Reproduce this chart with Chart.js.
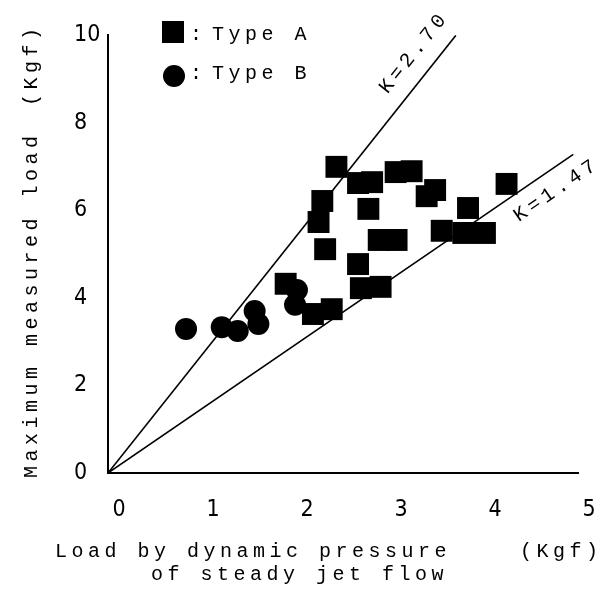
<!DOCTYPE html>
<html>
<head>
<meta charset="utf-8">
<script src="https://cdn.jsdelivr.net/npm/chart.js@4/dist/chart.umd.min.js"></script>
<style>
  body { margin: 0; background: #fff; }
  canvas { display: block; }
</style>
</head>
<body>
<canvas id="chart" width="614" height="590"></canvas>
<script>
// Type A (squares)
const typeAX = [2.43, 2.66, 2.81, 3.06, 3.23, 3.39, 3.48, 2.77, 2.88, 3.07, 2.66, 2.69, 2.90, 2.38, 2.18, 1.89, 2.28, 2.24, 2.31, 4.24, 3.83, 3.55, 3.78, 4.01];
const typeAY = [6.99, 6.62, 6.64, 6.87, 6.89, 6.32, 6.46, 6.03, 5.32, 5.32, 4.77, 4.22, 4.25, 3.74, 3.63, 4.32, 6.21, 5.73, 5.11, 6.60, 6.05, 5.53, 5.48, 5.48];

// Type B (circles)
const typeBX = [0.83, 1.21, 1.38, 1.56, 1.60, 2.01, 1.99];
const typeBY = [3.29, 3.33, 3.24, 3.70, 3.40, 4.18, 3.84];

// reference lines y = K * x, and where each one stops
const kValues = [2.70, 1.47];
const kEnds = [3.70, 4.95];

const xTicks = [0, 1, 2, 3, 4, 5];
const yTicks = [0, 2, 4, 6, 8, 10];

const monoFont = '"Liberation Mono", "Courier New", monospace';
const tickFont = '"Liberation Sans Narrow", "DejaVu Sans Condensed", "Arial Narrow", sans-serif';

const toPoints = (xs, ys) => xs.map((x, i) => ({ x: x, y: ys[i] }));

const kDatasets = kValues.map((k, i) => ({
    type: 'line',
    label: 'K=' + k.toFixed(2),
    data: [{ x: 0, y: 0 }, { x: kEnds[i], y: k * kEnds[i] }],
    borderColor: '#000',
    borderWidth: 1.6,
    pointRadius: 0,
    fill: false
}));

// draws the legend, K labels and axis titles in the typewriter style of the original
const textPlugin = {
    id: 'textPlugin',
    afterDraw(chart) {
        const { ctx, scales: { x, y } } = chart;
        ctx.save();
        ctx.fillStyle = '#000';
        ctx.font = '20px ' + monoFont;
        ctx.letterSpacing = '4.5px';
        ctx.textBaseline = 'alphabetic';
        ctx.textAlign = 'left';

        // legend
        ctx.fillRect(162, 21, 22, 22);
        ctx.beginPath();
        ctx.arc(174, 76, 11, 0, Math.PI * 2);
        ctx.fill();
        ctx.fillText(':', 190, 40);
        ctx.fillText('Type A', 212, 40);
        ctx.fillText(':', 190, 79);
        ctx.fillText('Type B', 212, 79);

        // K labels along the lines
        const ox = x.getPixelForValue(0), oy = y.getPixelForValue(0);
        const placements = [{ along: 0.93, off: -22 }, { along: 0.94, off: 20 }];
        kValues.forEach((k, i) => {
            const ex = x.getPixelForValue(kEnds[i]), ey = y.getPixelForValue(k * kEnds[i]);
            const dx = ex - ox, dy = ey - oy;
            const len = Math.hypot(dx, dy);
            const ux = dx / len, uy = dy / len;
            const p = placements[i];
            const nx = uy, ny = -ux;
            const cx = ox + ux * len * p.along - nx * p.off;
            const cy = oy + uy * len * p.along - ny * p.off;
            ctx.save();
            ctx.translate(cx, cy);
            ctx.rotate(Math.atan2(dy, dx));
            ctx.textAlign = 'center';
            ctx.textBaseline = 'middle';
            ctx.fillText('K=' + k.toFixed(2), 0, 0);
            ctx.restore();
        });

        // x axis title
        ctx.fillText('Load by dynamic pressure', 55, 557);
        ctx.fillText('(Kgf)', 520, 557);
        ctx.fillText('of steady jet flow', 151, 580);

        // y axis title
        ctx.save();
        ctx.translate(37, 478);
        ctx.rotate(-Math.PI / 2);
        ctx.fillText('Maximum measured load', 0, 0);
        ctx.fillText('(Kgf)', 372, 0);
        ctx.restore();

        ctx.restore();
    }
};

new Chart(document.getElementById('chart'), {
    type: 'scatter',
    data: {
        datasets: [
            {
                label: 'Type A',
                data: toPoints(typeAX, typeAY),
                pointStyle: 'rect',
                pointRadius: 15.5,
                pointHoverRadius: 15.5,
                backgroundColor: '#000',
                borderWidth: 0
            },
            {
                label: 'Type B',
                data: toPoints(typeBX, typeBY),
                pointStyle: 'circle',
                pointRadius: 11,
                pointHoverRadius: 11,
                backgroundColor: '#000',
                borderWidth: 0
            },
            ...kDatasets
        ]
    },
    options: {
        responsive: false,
        animation: false,
        events: [],
        layout: { padding: { left: 74, top: 35, right: 36, bottom: 0 } },
        plugins: {
            legend: { display: false },
            tooltip: { enabled: false }
        },
        scales: {
            x: {
                type: 'linear',
                min: 0,
                max: 5,
                afterFit: (scale) => { scale.height = 117; },
                afterBuildTicks: (scale) => { scale.ticks = xTicks.map(v => ({ value: v })); },
                grid: { display: false, drawTicks: false },
                border: { display: true, color: '#000', width: 2 },
                ticks: {
                    color: '#000',
                    padding: 23,
                    labelOffset: 11,
                    autoSkip: false,
                    maxRotation: 0,
                    font: { family: tickFont, size: 23 }
                }
            },
            y: {
                type: 'linear',
                min: 0,
                max: 10,
                afterFit: (scale) => { scale.width = 34; },
                afterBuildTicks: (scale) => { scale.ticks = yTicks.map(v => ({ value: v })); },
                grid: { display: false, drawTicks: false },
                border: { display: true, color: '#000', width: 2 },
                ticks: {
                    color: '#000',
                    crossAlign: 'far',
                    padding: 0,
                    font: { family: tickFont, size: 23 }
                }
            }
        }
    },
    plugins: [textPlugin]
});
</script>
</body>
</html>
